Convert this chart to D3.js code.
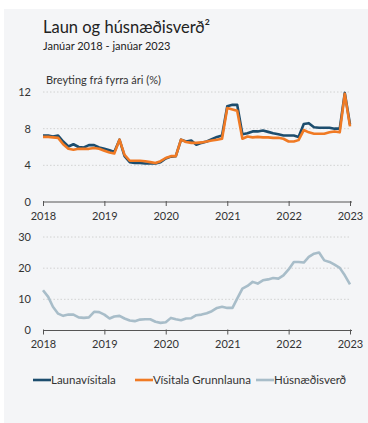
<!DOCTYPE html>
<html><head><meta charset="utf-8">
<script src="https://cdn.jsdelivr.net/npm/d3@7"></script>
<style>
html,body{margin:0;padding:0;background:#fff;}
svg{display:block;font-family:Lato,"Open Sans",sans-serif;}
</style></head>
<body>
<svg id="c" width="368" height="423"></svg>
<script>
// Monthly data Jan 2018 – Jan 2023 (61 months)
const startDate = new Date(2018, 0, 1);
const launavisitala = [7.25,7.25,7.15,7.25,6.6,6.05,6.3,6.0,5.95,6.2,6.2,5.95,
  5.8,5.65,5.45,6.8,5.0,4.35,4.25,4.25,4.2,4.2,4.2,4.35,
  4.75,4.95,5.0,6.8,6.6,6.7,6.25,6.45,6.6,6.85,7.1,7.25,
  10.45,10.6,10.6,7.4,7.5,7.7,7.7,7.8,7.65,7.5,7.4,7.25,
  7.25,7.25,7.1,8.5,8.6,8.15,8.1,8.1,8.1,8.0,8.0,11.9,
  8.45];
const visitalaGrunnlauna = [7.1,7.1,7.05,7.0,6.3,5.8,5.7,5.8,5.8,5.8,5.9,5.8,
  5.6,5.4,5.3,6.8,5.15,4.5,4.5,4.5,4.45,4.35,4.25,4.45,
  4.8,5.0,5.0,6.8,6.55,6.45,6.45,6.5,6.6,6.7,6.8,6.9,
  10.25,10.1,9.95,6.9,7.15,7.05,7.1,7.05,7.05,7.0,7.0,6.9,
  6.6,6.6,6.75,7.85,7.6,7.45,7.45,7.45,7.6,7.7,7.6,11.8,
  8.25];
const husnaedisverd = [12.9,10.8,7.6,5.4,4.7,5.1,5.1,4.2,4.05,4.2,6.0,5.9,
  5.1,3.85,4.5,4.7,3.85,3.2,3.0,3.5,3.6,3.6,2.8,2.45,
  2.65,4.05,3.6,3.3,3.85,3.95,4.9,5.1,5.55,6.2,7.25,7.6,
  7.25,7.25,10.25,13.45,14.3,15.6,15.05,16.1,16.4,16.85,16.65,17.7,
  19.6,22.0,22.0,21.8,23.6,24.65,25.0,22.5,22.0,21.1,20.1,17.7,
  14.8];
const yTicksTop = [0,4,8,12];
const yTicksBottom = [0,10,20,30];
const seriesNames = ["Launavísitala","Vísitala Grunnlauna","Húsnæðisverð"];
const seriesColors = ["#1c4d6e","#f07a24","#a8bdc9"];
const title = "Laun og húsnæðisverð²";
const subtitle = "Janúar 2018 - janúar 2023";
const yLabel = "Breyting frá fyrra ári (%)";

const months = launavisitala.map((_, i) => new Date(2018, i, 1));

const svg = d3.select("#c");
svg.append("rect").attr("x",4).attr("y",9).attr("width",364).attr("height",414).attr("fill","#f4f5f7");

const x = d3.scaleTime().domain([startDate, new Date(2023,0,1)]).range([43, 350]);
const yTop = d3.scaleLinear().domain([0,12]).range([202, 92]);
const yBot = d3.scaleLinear().domain([0,30]).range([330.5, 237]);

svg.append("text").attr("x",43).attr("y",33).attr("font-size",16.5).attr("fill","#222").text(title);
svg.append("text").attr("x",43).attr("y",50).attr("font-size",11).attr("fill","#222").text(subtitle);
svg.append("text").attr("x",46).attr("y",84).attr("font-size",11).attr("fill","#333").text(yLabel);

function panel(y, ticks, series) {
  const g = svg.append("g");
  g.selectAll("line.grid").data(ticks.filter(t => t > 0)).join("line")
    .attr("x1", x.range()[0]).attr("x2", x.range()[1])
    .attr("y1", d => y(d)).attr("y2", d => y(d))
    .attr("stroke","#c9c9c9").attr("stroke-width",0.8).attr("stroke-dasharray","1.5,2");
  g.selectAll("text.yl").data(ticks).join("text")
    .attr("x", 31).attr("y", d => y(d)).attr("dy","0.35em")
    .attr("text-anchor","end").attr("font-size",11).attr("fill","#333").text(d => d);
  const ax = d3.axisBottom(x).ticks(d3.timeYear.every(1)).tickFormat(d3.timeFormat("%Y"))
    .tickSizeInner(4).tickSizeOuter(0).tickPadding(6);
  const axg = g.append("g").attr("transform", `translate(0,${y(0)})`).call(ax);
  axg.select(".domain").attr("stroke","#555").attr("d", `M${x.range()[0]},0H${x.range()[1]+2}`);
  axg.selectAll(".tick line").attr("stroke","#555").attr("y1",-1);
  axg.selectAll(".tick text").attr("font-size",11).attr("fill","#333").attr("font-family","Lato,sans-serif");
  const line = d3.line().x((d,i) => x(months[i])).y(d => y(d));
  series.forEach(s => {
    g.append("path").datum(s.data).attr("d", line).attr("fill","none")
      .attr("stroke", s.color).attr("stroke-width", 2.6).attr("stroke-linejoin","round");
  });
}
panel(yTop, yTicksTop, [
  {data: launavisitala, color: seriesColors[0]},
  {data: visitalaGrunnlauna, color: seriesColors[1]}
]);
panel(yBot, yTicksBottom, [
  {data: husnaedisverd, color: seriesColors[2]}
]);

const legX = [33, 135, 256];
const leg = svg.append("g");
seriesNames.forEach((n, i) => {
  leg.append("line").attr("x1", legX[i]).attr("x2", legX[i] + 18).attr("y1", 380).attr("y2", 380)
    .attr("stroke", seriesColors[i]).attr("stroke-width", 2.6);
  leg.append("text").attr("x", legX[i] + 18).attr("y", 380).attr("dy","0.35em")
    .attr("font-size", 11.5).attr("fill","#333").text(n);
});
</script>
</body></html>
